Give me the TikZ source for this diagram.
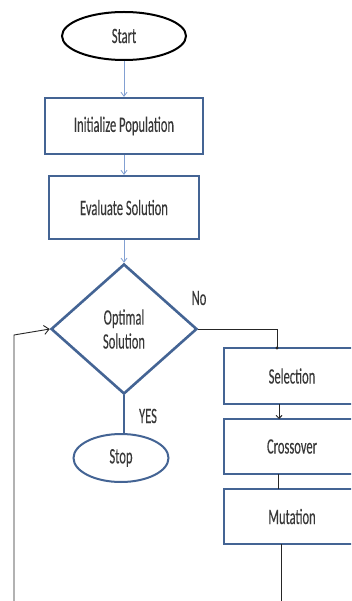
\documentclass[tikz,border=0pt]{standalone}
\usepackage{fontspec}
\newfontfamily\calfont{Carlito}[FakeStretch=0.57,FakeBold=0.15]
\usetikzlibrary{shapes.geometric,arrows.meta}
\definecolor{boxblue}{RGB}{68,100,148}
\definecolor{lineblue}{RGB}{130,160,210}
\begin{document}
\begin{tikzpicture}[x=1pt,y=-1pt,
  txt/.style={font=\calfont\fontsize{22}{24}\selectfont, text=black!78},
  procbox/.style={txt, draw=boxblue, line width=2.2pt, rectangle, inner sep=0pt},
  flowarrow/.style={draw=lineblue, line width=0.8pt, -{Straight Barb[length=4pt,width=6pt]}},
  blackarrow/.style={draw=black!85, line width=0.9pt}
]
\clip (0,0) rectangle (351,601);
\fill[white] (0,0) rectangle (351,601);

\node[txt, draw=black, line width=2pt, ellipse, minimum width=124pt, minimum height=48pt, inner sep=0pt] (start) at (124,36) {Start};
\node[procbox, minimum width=158pt, minimum height=56pt] (init) at (124,126) {Initialize Population};
\node[procbox, minimum width=150pt, minimum height=63pt] (eval) at (124,207.5) {Evaluate Solution};
\node[txt, draw=boxblue, line width=2.6pt, diamond, minimum width=146pt, minimum height=130pt, inner sep=0pt, align=center] (opt) at (124,329) {Optimal\\[0pt]Solution};
\node[txt, draw=boxblue, line width=2pt, ellipse, minimum width=95pt, minimum height=48pt, inner sep=0pt] (stop) at (121,458) {Stop};
\node[procbox, minimum width=136pt, minimum height=56pt] (sel) at (292,376) {Selection};
\node[procbox, minimum width=136pt, minimum height=55pt] (cross) at (292,446.5) {Crossover};
\node[procbox, minimum width=136pt, minimum height=55pt] (mut) at (292,516.5) {Mutation};

\node[txt] (no) at (199,298) {No};
\node[txt] (yes) at (148,416) {YES};

\draw[flowarrow] (start.south) -- (init.north);
\draw[flowarrow] (init.south) -- (eval.north);
\draw[flowarrow] (eval.south) -- (opt.north);
\draw[draw=boxblue, line width=2.4pt] (opt.south) -- (opt.south |- stop.north);

\coordinate (selin) at (277,348);
\draw[blackarrow] (opt.east) -| (selin);
\fill[black!85] (selin) circle (1.6pt);

\coordinate (selout) at (279,404);
\coordinate (crossin) at (279,419);
\draw[blackarrow, -{Straight Barb[length=3pt,width=6pt]}] (selout) -- (crossin);

\coordinate (crossout) at (278,474);
\coordinate (mutin) at (278,489);
\draw[blackarrow] (crossout) -- (mutin);

\coordinate (mutout) at (281,544);
\coordinate (mutend) at (281,601);
\draw[blackarrow] (mutout) -- (mutend);

\coordinate (loopstart) at (14,601);
\coordinate (loopcorner) at (14,335);
\draw[blackarrow, -{Straight Barb[length=5pt,width=9pt]}] (loopstart) -- (loopcorner) -- (opt.west);
\end{tikzpicture}
\end{document}
